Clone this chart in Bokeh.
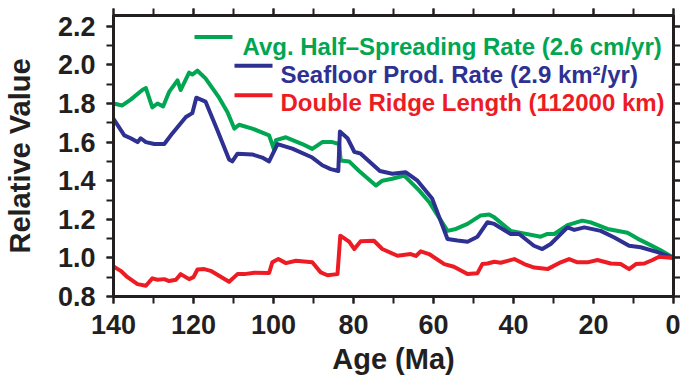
from bokeh.plotting import figure
from bokeh.models import (LinearAxis, SingleIntervalTicker, Range1d, PrintfTickFormatter, Label,
                          CustomLabelingPolicy)
from bokeh.embed import file_html
from bokeh.resources import INLINE

# ---------------- data ----------------
green_age = [140, 137.8, 135.7, 132.8, 131.9, 130.3, 129, 127.6, 126.1, 124, 123.2, 121.1,
             120.3, 119, 117, 113.6, 111.5, 109.8, 108.6, 105.3, 101.1, 99.8, 99.4, 96.9,
             92.8, 90.3, 87.8, 85.3, 83.6, 83.2, 81.1, 78.6, 74.4, 72.8, 70.3, 67.3, 67,
             63.6, 61.1, 56.5, 54.4, 51.5, 48.2, 46.1, 44.8, 40.7, 33.2, 31.5, 29.8, 26.5,
             22.8, 20.7, 16.5, 11.5, 9, 6.1, 3.2, 0]
green_val = [1.80, 1.79, 1.82, 1.87, 1.88, 1.78, 1.80, 1.785, 1.86, 1.92, 1.87, 1.96,
             1.95, 1.97, 1.93, 1.83, 1.755, 1.67, 1.69, 1.67, 1.635, 1.557, 1.61, 1.625,
             1.59, 1.565, 1.60, 1.60, 1.59, 1.505, 1.50, 1.45, 1.375, 1.40, 1.41, 1.427, 1.42,
             1.35, 1.29, 1.14, 1.15, 1.176, 1.22, 1.225, 1.21, 1.14, 1.11, 1.124, 1.124, 1.17,
             1.193, 1.184, 1.15, 1.13, 1.10, 1.07, 1.04, 1.0]

blue_age = [140, 137.3, 135.7, 134, 133.2, 131.9, 129.8, 127.3, 125.3, 121.9, 120.3, 119.3,
            117, 114, 111.1, 110.3, 109, 105.3, 102.8, 101.1, 99, 95.3, 90.3, 87.8, 85.7,
            83.8, 83.4, 81.5, 79.8, 78.2, 73.4, 70.3, 67, 64, 60.3, 56.5, 54, 51.5, 49,
            46.5, 44.8, 40.7, 38.6, 34.9, 32.8, 30.7, 26.5, 24.8, 22.3, 18.2, 14.8, 11.1,
            8.2, 4, 0]
blue_val = [1.72, 1.635, 1.62, 1.60, 1.62, 1.60, 1.59, 1.59, 1.645, 1.73, 1.75, 1.83,
            1.81, 1.66, 1.51, 1.50, 1.54, 1.536, 1.52, 1.50, 1.59, 1.566, 1.52, 1.48, 1.46,
            1.45, 1.655, 1.62, 1.55, 1.54, 1.45, 1.436, 1.444, 1.40, 1.306, 1.098, 1.09, 1.084, 1.11,
            1.185, 1.176, 1.124, 1.124, 1.063, 1.046, 1.072, 1.158, 1.145, 1.158, 1.14, 1.106, 1.063,
            1.055, 1.03, 1.0]

red_age = [140, 138.2, 136.5, 134, 131.9, 130.3, 129, 127.3, 126.1, 124.4, 123.2, 121.1,
           120, 119, 117.3, 115.7, 111.1, 109, 107.3, 104.8, 101.1, 100.3, 98.8, 96.9,
           94.4, 90.3, 88.2, 86.5, 84, 83.3, 81.1, 79.8, 78.2, 74.9, 72.8, 69, 65.7, 64.4,
           63.2, 61.1, 57.3, 54.9, 51.5, 49, 47.8, 46.5, 44.8, 43.2, 39.8, 37.3, 34.8, 31.5,
           28.2, 26.1, 24, 21.5, 19, 15.7, 13.2, 11.1, 9.4, 7.3, 5.25, 3.6, 0]
red_val = [0.956, 0.933, 0.90, 0.864, 0.856, 0.894, 0.887, 0.89, 0.88, 0.887, 0.916, 0.89,
           0.90, 0.94, 0.942, 0.933, 0.876, 0.916, 0.916, 0.923, 0.922, 0.977, 0.994, 0.973,
           0.985, 0.977, 0.925, 0.91, 0.916, 1.115, 1.084, 1.046, 1.086, 1.089, 1.046, 1.011, 1.02, 1.01,
           1.034, 1.02, 0.968, 0.954, 0.916, 0.921, 0.968, 0.971, 0.98, 0.975, 0.994, 0.968, 0.95, 0.942,
           0.977, 0.994, 0.977, 0.977, 0.989, 0.971, 0.968, 0.942, 0.968, 0.971, 0.989, 1.006, 1.0]

series_labels = ["Avg. Half\u2013Spreading Rate (2.6 cm/yr)",
                 "Seafloor Prod. Rate (2.9 km\u00b2/yr)",
                 "Double Ridge Length (112000 km)"]
series_colors = ["#00a651", "#2e3192", "#ed1c24"]

x_label = "Age (Ma)"
y_label = "Relative Value"

# ---------------- figure ----------------
FONT = "Liberation Sans"
INK = "#231f20"

p = figure(frame_width=560, frame_height=281, x_range=Range1d(140, 0), y_range=Range1d(0.8, 2.256),
           output_backend="svg", toolbar_location=None,
           min_border_left=111, min_border_right=0, min_border_top=15, min_border_bottom=0)
p.xaxis.visible = False
p.yaxis.visible = False
p.grid.visible = False
p.background_fill_color = "white"
p.border_fill_color = "white"
p.outline_line_color = INK
p.outline_line_width = 3

HIDE_ALL = CustomLabelingPolicy(code="for (let i = 0; i < indices.size; i++) { indices.unset(i) } return indices")


def style_axis(ax, labels=True):
    ax.axis_line_width = 3
    ax.axis_line_color = INK
    ax.major_tick_line_width = 2
    ax.minor_tick_line_width = 2
    ax.major_tick_line_color = INK
    ax.minor_tick_line_color = INK
    ax.major_tick_in = 0
    ax.minor_tick_in = 0
    ax.major_tick_out = 7
    ax.minor_tick_out = 7
    if labels:
        ax.major_label_text_font = FONT
        ax.major_label_text_font_style = "bold"
        ax.major_label_text_font_size = "27px"
        ax.major_label_text_color = INK
        ax.axis_label_text_font = FONT
        ax.axis_label_text_font_style = "bold"
        ax.axis_label_text_font_size = "29px"
        ax.axis_label_text_color = INK
    else:
        ax.major_label_policy = HIDE_ALL
        ax.major_label_text_font_size = "0px"
        ax.major_label_standoff = 0


def xt():
    return SingleIntervalTicker(interval=20, num_minor_ticks=2)


def yt():
    return SingleIntervalTicker(interval=0.2, num_minor_ticks=2)


bottom = LinearAxis(ticker=xt(), formatter=PrintfTickFormatter(format="%d"), axis_label=x_label)
style_axis(bottom)
bottom.major_label_standoff = 11
bottom.axis_label_standoff = 6
top = LinearAxis(ticker=xt())
style_axis(top, labels=False)
left = LinearAxis(ticker=yt(), formatter=PrintfTickFormatter(format="%.1f"), axis_label=y_label)
style_axis(left)
left.major_label_standoff = 11
left.axis_label_standoff = 19
right = LinearAxis(ticker=yt())
style_axis(right, labels=False)

p.add_layout(bottom, "below")
p.add_layout(top, "above")
p.add_layout(left, "left")
p.add_layout(right, "right")

# ---------------- curves ----------------
ages = [green_age, blue_age, red_age]
vals = [green_val, blue_val, red_val]
for a, v, c in zip(ages, vals, series_colors):
    p.line(a, v, line_color=c, line_width=4, line_join="round")

# ---------------- legend (layout positions) ----------------
sample_x0 = [119.75, 109.75, 109.75]
sample_x1 = [110.25, 100.25, 100.25]
sample_y = [2.144, 1.995, 1.843]
text_x = [107.75, 98.25, 98.25]
text_y = [2.097, 1.949, 1.806]
for i in range(3):
    p.segment(x0=[sample_x0[i]], y0=[sample_y[i]], x1=[sample_x1[i]], y1=[sample_y[i]],
              line_color=series_colors[i], line_width=4)
    p.add_layout(Label(x=text_x[i], y=text_y[i], text=series_labels[i],
                       text_font=FONT, text_font_style="bold", text_font_size="24px",
                       text_color=series_colors[i], text_baseline="alphabetic",
                       text_align="left"))

open("out.html", "w").write(file_html(p, INLINE))
